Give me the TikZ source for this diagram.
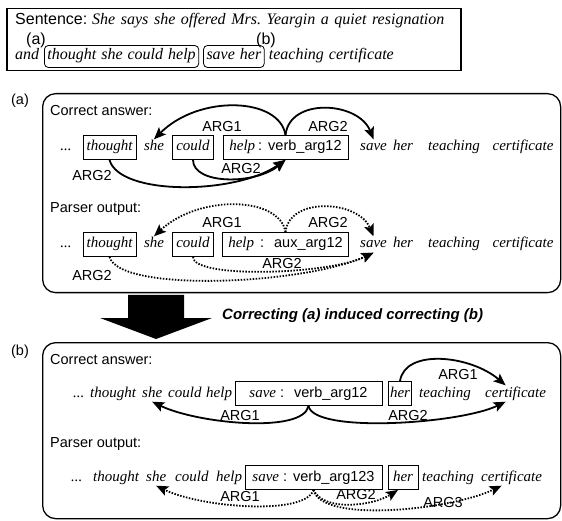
\documentclass[tikz,border=0pt]{standalone}
\usepackage{fontspec}
\setmainfont{Liberation Serif}
\setsansfont{Liberation Sans}
\usetikzlibrary{arrows.meta}
\newcommand\argty{\upshape\sffamily\fontsize{14.5}{16}\selectfont}
\begin{document}
\begin{tikzpicture}[x=1pt,y=-1pt,
  sanslab/.style={font=\sffamily\fontsize{14.5}{16}\selectfont, inner sep=0pt},
  toplab/.style={font=\sffamily\fontsize{16}{18}\selectfont, inner sep=0pt},
  sentf/.style={font=\itshape\fontsize{16}{18}\selectfont, inner sep=0pt, anchor=base west},
  spanbox/.style={sentf, draw, line width=0.8pt, rounded corners=4pt, text height=11pt, text depth=4pt, inner xsep=3pt, inner ysep=3.5pt},
  wd/.style={font=\itshape\fontsize{15}{17}\selectfont, inner sep=1pt, text height=10.5pt, text depth=3.5pt, anchor=base},
  wdw/.style={wd, anchor=base west},
  wbox/.style={wd, draw, line width=0.8pt, inner xsep=3.5pt, inner ysep=5pt},
  panel/.style={draw, line width=1.3pt, rounded corners=13pt, anchor=north west, inner sep=0pt},
  rel/.style={line width=1.8pt, -{Stealth[length=12pt,width=10pt,inset=2.5pt]}},
  relp/.style={rel, dash pattern=on 1.5pt off 1.5pt},
]
\useasboundingbox (0,0) rectangle (562,521);

% ---- the sentence ----
\node[draw, line width=1.5pt, anchor=north west, minimum width=454pt, minimum height=62pt, inner sep=0pt] (sbox) at (6,8) {};
\node[toplab, anchor=base west] (sentlab) at (15,25) {Sentence:};
\node[sentf] (sent1) at (92,25) {\frenchspacing\spaceskip=5.6pt She says she offered Mrs. Yeargin a quiet resignation};
\node[sentf] (sand) at (15,60) {and};
\node[spanbox] (spa) at (44,60) {\spaceskip=5pt thought she could help};
\node[spanbox] (spb) at ([xshift=4pt]spa.base east) {\spaceskip=5pt save her};
\node[sentf] (srest) at ([xshift=4pt]spb.base east) {\spaceskip=5pt teaching certificate};
\node[toplab, anchor=base] (spalab) at (36,45) {(a)};
\node[toplab, anchor=base] (spblab) at (266,45) {(b)};

% ---- panel (a) ----
\node[panel, minimum width=518pt, minimum height=199pt] (pa) at (42,93) {};
\node[sanslab, anchor=base] (tagA) at (20,105) {(a)};
\node[sanslab, anchor=base west] (caA) at (50,116) {Correct answer:};

\node[wd] (a1dots) at (66,151) {...};
\node[wbox, minimum width=53pt] (a1th) at (109.5,151) {thought};
\node[wd] (a1she) at (154,151) {she};
\node[wbox] (a1cd) at (193,151) {could};
\node[wbox, minimum width=125pt, inner xsep=6pt] (a1hp) at (285.5,151) {help\hspace{3pt}\argty:\hspace{6pt}verb\_arg12};
\node[wd] (a1sv) at (373.5,151) {save};
\node[wd] (a1her) at (403,151) {her};
\node[wd] (a1tc) at (454,151) {teaching};
\node[wd] (a1ct) at (523,151) {certificate};

\draw[rel] (a1hp.north) .. controls +(-6,-38) and +(45,-45) .. (a1she.north);
\draw[rel] (a1hp.north) .. controls +(4,-38) and +(-15,-38) .. (a1sv.north);
\draw[rel] (a1cd.south) .. controls +(0,25) and +(-30,25) .. (a1hp.south);
\draw[rel] (a1th.south) .. controls +(10,36) and +(-50,35) .. (a1hp.south);
\node[sanslab] (a1l1) at (222,127) {ARG1};
\node[sanslab] (a1l2) at (328,127) {ARG2};
\node[sanslab] (a1l3) at (241,169) {ARG2};
\node[sanslab] (a1l4) at (92,176) {ARG2};

\node[sanslab, anchor=base west] (poA) at (50,213) {Parser output:};

\node[wd] (a2dots) at (66,248) {...};
\node[wbox, minimum width=53pt] (a2th) at (109.5,248) {thought};
\node[wd] (a2she) at (154,248) {she};
\node[wbox] (a2cd) at (193,248) {could};
\node[wbox, minimum width=125pt, inner xsep=6pt] (a2hp) at (285.5,248) {help\hspace{6pt}\argty:\hspace{10pt}aux\_arg12};
\node[wd] (a2sv) at (373.5,248) {save};
\node[wd] (a2her) at (403,248) {her};
\node[wd] (a2tc) at (454,248) {teaching};
\node[wd] (a2ct) at (523,248) {certificate};

\draw[relp] (a2hp.north) .. controls +(-6,-36) and +(45,-42) .. (a2she.north);
\draw[relp] (a2hp.north) .. controls +(4,-36) and +(-15,-36) .. (a2sv.north);
\draw[relp] (a2cd.south) .. controls +(0,22) and +(-45,22) .. (a2sv.south);
\draw[relp] (a2th.south) .. controls +(10,36) and +(-70,32) .. (a2sv.south);
\node[sanslab] (a2l1) at (222,223) {ARG1};
\node[sanslab] (a2l2) at (328,223) {ARG2};
\node[sanslab] (a2l3) at (282,264) {ARG2};
\node[sanslab] (a2l4) at (92,276) {ARG2};

% ---- the block arrow between the panels ----
\fill (128,295) -- (184,295) -- (184,318) -- (212,318) -- (156,339) -- (100,318) -- (128,318) -- cycle;
\node[font=\sffamily\bfseries\itshape\fontsize{15}{18}\selectfont, anchor=west, inner sep=0pt] (induce) at (222,316) {Correcting (a) induced correcting (b)};

% ---- panel (b) ----
\node[panel, minimum width=518pt, minimum height=176pt] (pb) at (42,342) {};
\node[sanslab, anchor=base] (tagB) at (20,355) {(b)};
\node[sanslab, anchor=base west] (caB) at (50,364) {Correct answer:};

\node[wdw] (b1dots) at (72,397) {...};
\node[wdw] (b1th) at (89,397) {thought};
\node[wdw] (b1she) at (141,397) {she};
\node[wdw] (b1cd) at (167,397) {could};
\node[wdw] (b1hp) at (205,397) {help};
\node[wbox, minimum width=147pt] (b1sv) at (308.5,397) {save\hspace{4pt}\argty:\hspace{10pt}verb\_arg12};
\node[wbox, inner xsep=1.5pt] (b1her) at (400,397) {her};
\node[wdw] (b1tc) at (418,397) {teaching};
\node[wdw] (b1ct) at (484,397) {certificate};

\draw[rel] (b1her.north) .. controls +(5,-33) and +(-35,-30) .. ([xshift=-10pt]b1ct.north);
\draw[rel] (b1sv.south) .. controls +(-5,28) and +(45,22) .. (b1she.south);
\draw[rel] (b1sv.south) .. controls +(5,28) and +(-45,22) .. ([xshift=-10pt]b1ct.south);
\node[sanslab] (b1l1) at (458,375) {ARG1};
\node[sanslab] (b1l2) at (240,416) {ARG1};
\node[sanslab] (b1l3) at (408,416) {ARG2};

\node[sanslab, anchor=base west] (poB) at (50,447) {Parser output:};

\node[wdw] (b2dots) at (70,481) {...};
\node[wdw] (b2th) at (92,481) {thought};
\node[wdw] (b2she) at (145,481) {she};
\node[wdw] (b2cd) at (174,481) {could};
\node[wdw] (b2hp) at (215,481) {help};
\node[wbox, minimum width=137pt] (b2sv) at (313.5,481) {save\hspace{4pt}\argty:\hspace{6pt}verb\_arg123};
\node[wbox, minimum width=30pt] (b2her) at (403,481) {her};
\node[wdw] (b2tc) at (421,481) {teaching};
\node[wdw] (b2ct) at (480,481) {certificate};

\draw[relp] (b2sv.south) .. controls +(-8,26) and +(45,22) .. (b2she.south);
\draw[relp] (b2sv.south) .. controls +(10,22) and +(-25,16) .. ([xshift=-5pt]b2her.south);
\draw[relp] (b2sv.south) .. controls +(8,34) and +(-50,24) .. ([xshift=-10pt]b2ct.south);
\node[sanslab] (b2l1) at (240,497) {ARG1};
\node[sanslab] (b2l2) at (356,495) {ARG2};
\node[sanslab] (b2l3) at (443,503) {ARG3};
\end{tikzpicture}
\end{document}
